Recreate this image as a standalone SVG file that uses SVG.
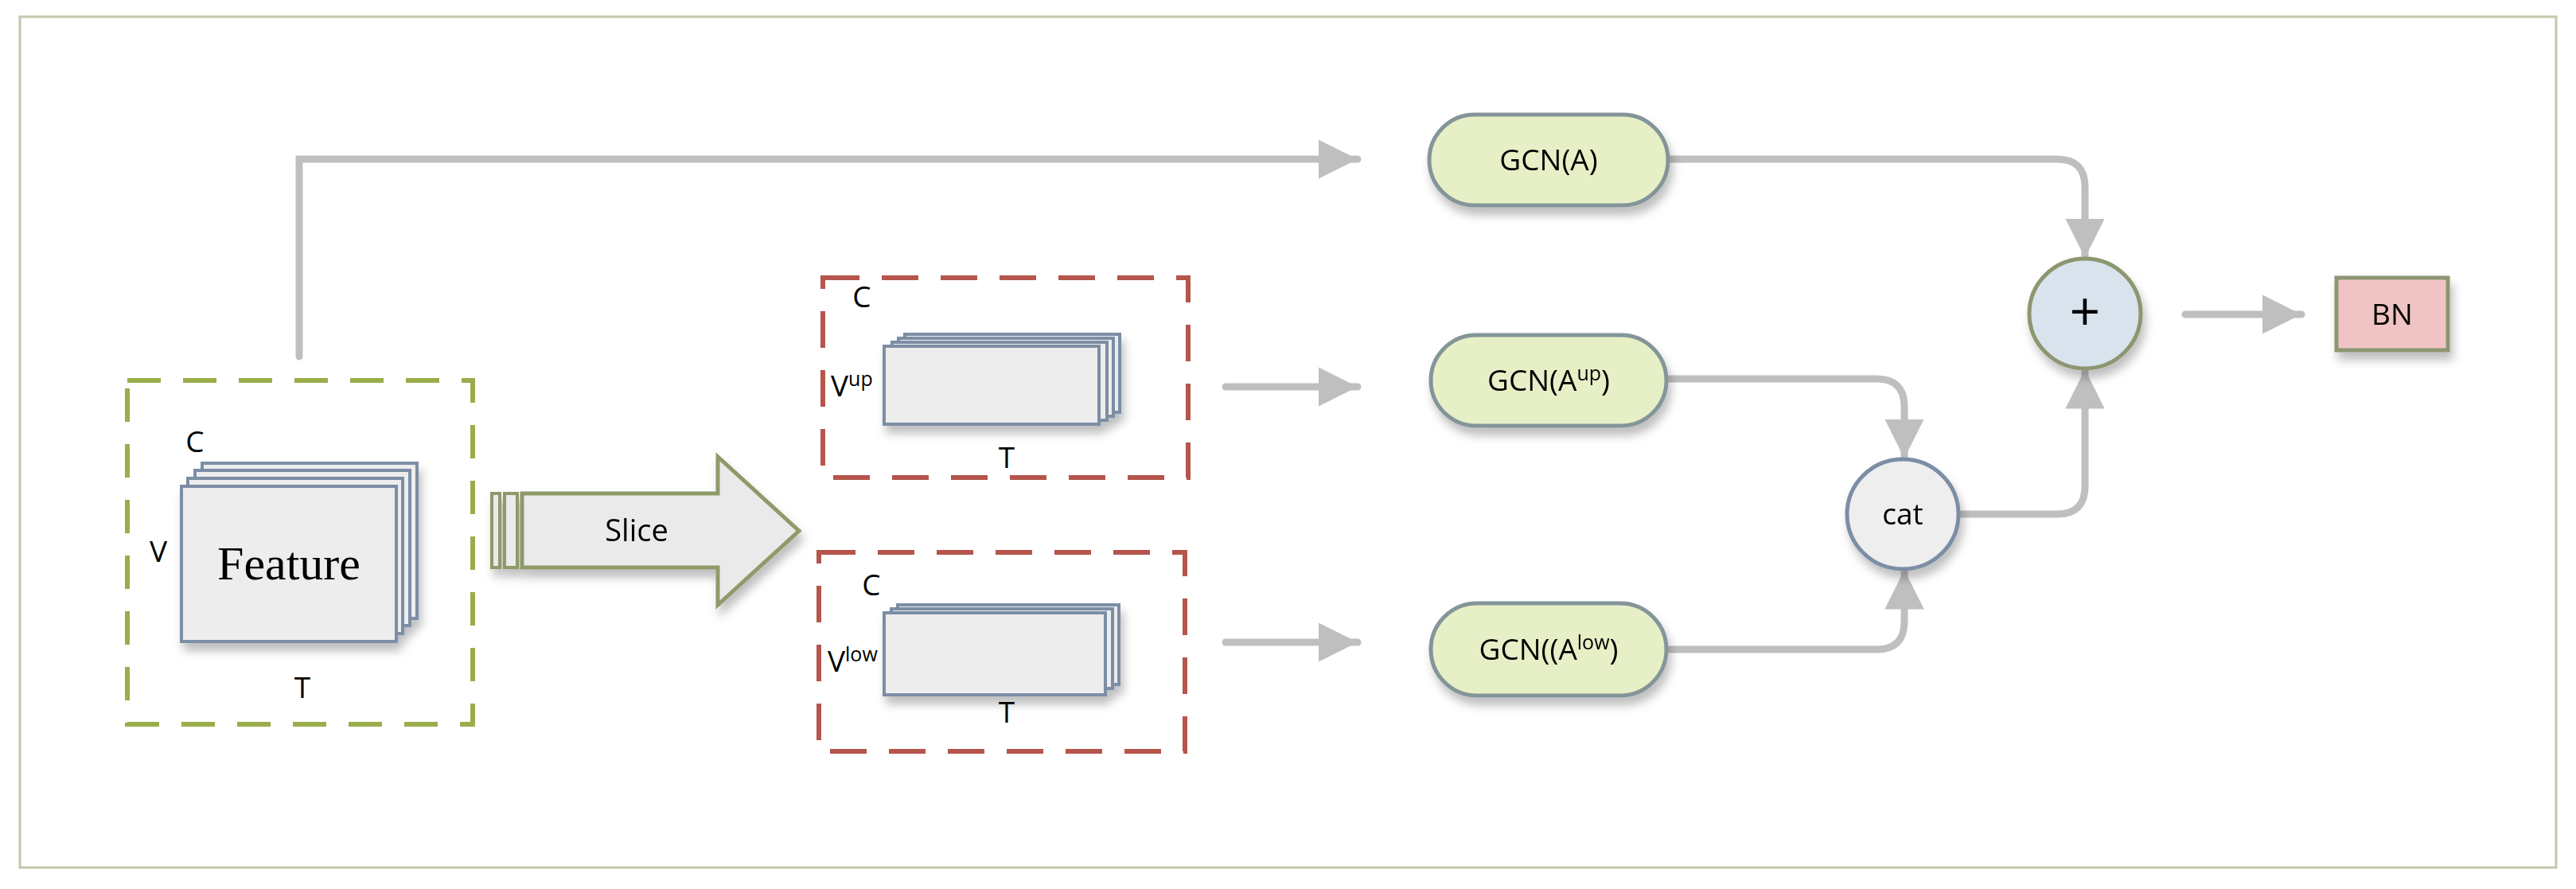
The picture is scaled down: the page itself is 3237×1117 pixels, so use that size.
<svg xmlns="http://www.w3.org/2000/svg" width="3237" height="1117" viewBox="0 0 3237 1117">
<style>
text{font-family:"Open Sans","Noto Sans","Liberation Sans",sans-serif;fill:#000}
.lbl{font-size:37px}
.conn{fill:none;stroke:#bfbfbf;stroke-width:9;stroke-linecap:round}
.sheet{fill:#ededed;stroke:#7b8ea5;stroke-width:4}
.pill{fill:#e6efc6;stroke:#84959a;stroke-width:5}
</style>
<defs>
<marker id="ah" viewBox="0 0 10 10" refX="10" refY="5" markerWidth="5.5" markerHeight="5.5" markerUnits="strokeWidth" orient="auto"><path d="M0,0L10,5L0,10z" fill="#bfbfbf"/></marker>
<filter id="sh" x="-20%" y="-20%" width="140%" height="150%"><feDropShadow dx="4" dy="10" stdDeviation="6" flood-color="#000" flood-opacity="0.25"/></filter>
</defs>
<rect width="3237" height="1117" fill="#fff"/>
<rect x="25" y="21" width="3187" height="1069" fill="none" stroke="#c3c8a8" stroke-width="3"/>

<g id="connectors">
<path class="conn" d="M376,448V200H1706" marker-end="url(#ah)"/>
<path class="conn" d="M1540,486H1706" marker-end="url(#ah)"/>
<path class="conn" d="M1540,807H1706" marker-end="url(#ah)"/>
<path class="conn" d="M2097,200H2585Q2620,200 2620,235V324" marker-end="url(#ah)"/>
<path class="conn" d="M2094,476H2358Q2393,476 2393,511V576" marker-end="url(#ah)"/>
<path class="conn" d="M2094,816H2358Q2393,816 2393,781V716" marker-end="url(#ah)"/>
<path class="conn" d="M2461,646H2585Q2620,646 2620,611V464" marker-end="url(#ah)"/>
<path class="conn" d="M2746,395H2892" marker-end="url(#ah)"/>
</g>

<g id="feature">
<rect x="160" y="478" width="434" height="432" fill="none" stroke="#9aad4c" stroke-width="6" stroke-dasharray="42,28"/>
<g filter="url(#sh)">
<rect class="sheet" x="254" y="582" width="270" height="195"/>
<rect class="sheet" x="245" y="591" width="270" height="195"/>
<rect class="sheet" x="236" y="601" width="270" height="195"/>
<rect class="sheet" x="228" y="611" width="270" height="195"/>
</g>
<text x="363" y="728" style="font-family:'Liberation Serif',serif" font-size="60" text-anchor="middle">Feature</text>
<text class="lbl" x="245" y="568" text-anchor="middle">C</text>
<text class="lbl" x="199" y="706" text-anchor="middle">V</text>
<text class="lbl" x="380" y="877" text-anchor="middle">T</text>
</g>

<g id="slice" filter="url(#sh)">
<rect x="618" y="620" width="10" height="93" fill="#eaeaea" stroke="#8f9a6a" stroke-width="4"/>
<rect x="634" y="620" width="16" height="93" fill="#eaeaea" stroke="#8f9a6a" stroke-width="4"/>
<path d="M656,620H902V574L1004,667L902,760V713H656z" fill="#eaeaea" stroke="#8f9a6a" stroke-width="5"/>
<text x="800" y="680" font-size="38" text-anchor="middle">Slice</text>
</g>

<g id="vup">
<rect x="1034" y="349" width="459" height="251" fill="none" stroke="#b5554c" stroke-width="6" stroke-dasharray="46,28"/>
<g filter="url(#sh)">
<rect class="sheet" x="1137" y="420" width="270" height="98"/>
<rect class="sheet" x="1129" y="425" width="270" height="98"/>
<rect class="sheet" x="1121" y="430" width="270" height="98"/>
<rect class="sheet" x="1111" y="435" width="270" height="98"/>
</g>
<text class="lbl" x="1083" y="386" text-anchor="middle">C</text>
<text class="lbl" x="1044" y="498">V<tspan font-size="25" dy="-13">up</tspan></text>
<text class="lbl" x="1265" y="588" text-anchor="middle">T</text>
</g>

<g id="vlow">
<rect x="1029" y="694" width="460" height="250" fill="none" stroke="#b5554c" stroke-width="6" stroke-dasharray="46,28"/>
<g filter="url(#sh)">
<rect class="sheet" x="1128" y="760" width="278" height="100"/>
<rect class="sheet" x="1120" y="765" width="278" height="100"/>
<rect class="sheet" x="1111" y="770" width="278" height="103"/>
</g>
<text class="lbl" x="1095" y="748" text-anchor="middle">C</text>
<text class="lbl" x="1040" y="844">V<tspan font-size="25" dy="-13">low</tspan></text>
<text class="lbl" x="1265" y="908" text-anchor="middle">T</text>
</g>

<g id="gcn-a" filter="url(#sh)">
<rect class="pill" x="1796" y="144" width="300" height="114" rx="57"/>
<text class="lbl" x="1946" y="214" text-anchor="middle">GCN(A)</text>
</g>
<g id="gcn-up" filter="url(#sh)">
<rect class="pill" x="1798" y="421" width="296" height="114" rx="57"/>
<text class="lbl" x="1946" y="491" text-anchor="middle">GCN(A<tspan font-size="25" dy="-13">up</tspan><tspan dy="13">)</tspan></text>
</g>
<g id="gcn-low" filter="url(#sh)">
<rect class="pill" x="1798" y="758" width="296" height="116" rx="58"/>
<text class="lbl" x="1946" y="829" text-anchor="middle">GCN((A<tspan font-size="25" dy="-13">low</tspan><tspan dy="13">)</tspan></text>
</g>

<g id="cat" filter="url(#sh)">
<ellipse cx="2391" cy="646" rx="70" ry="69" fill="#eeeeee" stroke="#7b8ea5" stroke-width="5"/>
<text class="lbl" x="2391" y="659" text-anchor="middle">cat</text>
</g>
<g id="plus" filter="url(#sh)">
<ellipse cx="2620" cy="394" rx="70" ry="69" fill="#d9e3ed" stroke="#8c9670" stroke-width="5"/>
<text x="2620" y="416" font-size="68" text-anchor="middle">+</text>
</g>
<g id="bn" filter="url(#sh)">
<rect x="2936" y="349" width="140" height="91" fill="#f0c4c4" stroke="#8c9670" stroke-width="5"/>
<text class="lbl" x="3006" y="408" text-anchor="middle">BN</text>
</g>
</svg>
